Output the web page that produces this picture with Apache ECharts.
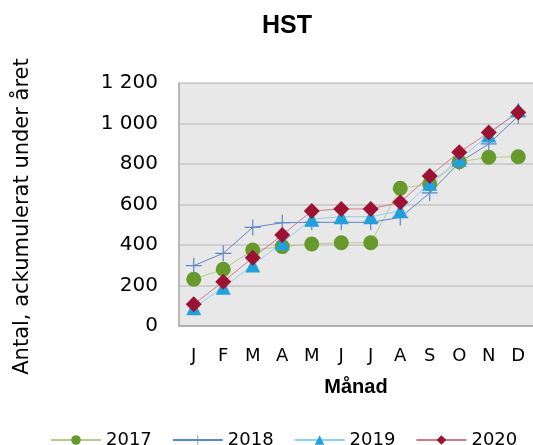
<!DOCTYPE html>
<html>
<head>
<meta charset="utf-8">
<script src="https://cdn.jsdelivr.net/npm/echarts@6/dist/echarts.min.js"></script>
<style>
  html, body { margin: 0; padding: 0; background: #fff; }
  #chart { width: 533px; height: 445px; }
</style>
</head>
<body>
<div id="chart"></div>
<script>
const months = ['J', 'F', 'M', 'A', 'M', 'J', 'J', 'A', 'S', 'O', 'N', 'D']
const yTicks = [0, 200, 400, 600, 800, 1000, 1200]
const years = ['2017', '2018', '2019', '2020']

const data2017 = [231, 280, 375, 392, 405, 411, 411, 680, 701, 811, 833, 836]
const data2018 = [298, 359, 487, 510, 512, 512, 512, 536, 657, 807, 899, 1037]
const data2019 = [90, 191, 301, 411, 527, 540, 540, 569, 705, 823, 943, 1067]
const data2020 = [107, 219, 337, 449, 568, 578, 578, 611, 741, 858, 955, 1054]

const plusPath = 'path://M0,7.4H16V8.6H0Z M7.4,0H8.6V16H7.4Z'

const font = 'DejaVu Sans, Verdana, sans-serif'

function mkSeries(name, values, symbol, size, markColor, lineColor) {
    return {
        name,
        type: 'line',
        data: values,
        symbol,
        symbolSize: size,
        showAllSymbol: true,
        itemStyle: { color: markColor },
        lineStyle: { color: lineColor, width: 1 },
        emphasis: { disabled: true },
        animation: false
    }
}

const chart = echarts.init(document.getElementById('chart'), null, { renderer: 'canvas' })

const option = {
    animation: false,
    title: {
        text: 'HST',
        left: 282,
        top: 9,
        textAlign: 'center',
        textStyle: { fontFamily: 'Liberation Sans, Arial, sans-serif', fontSize: 25, fontWeight: 'bold', color: '#000' }
    },
    legend: {
        data: years,
        left: 45,
        top: 426,
        width: 488,
        itemWidth: 50,
        itemHeight: 12,
        itemGap: 20,
        textStyle: { fontFamily: font, fontSize: 18, color: '#000' }
    },
    grid: { left: 179, top: 83, right: -5, bottom: 119 },
    xAxis: {
        type: 'category',
        data: months,
        boundaryGap: true,
        name: 'Månad',
        nameLocation: 'middle',
        nameGap: 51,
        nameTextStyle: { fontFamily: 'Liberation Sans, Arial, sans-serif', fontSize: 20, fontWeight: 'bold', color: '#000' },
        axisLine: { lineStyle: { color: '#a6a6a6', width: 1.5 } },
        axisTick: { show: false },
        axisLabel: { fontFamily: font, fontSize: 18, color: '#000', margin: 21, interval: 0 }
    },
    yAxis: {
        type: 'value',
        min: yTicks[0],
        max: yTicks[yTicks.length - 1],
        interval: yTicks[1] - yTicks[0],
        name: 'Antal, ackumulerat under året',
        nameLocation: 'middle',
        nameGap: 146,
        nameTextStyle: { fontFamily: font, fontSize: 21, color: '#000', padding: [0, 24, 0, 0] },
        axisLine: { show: true, lineStyle: { color: '#a6a6a6', width: 1.5 } },
        axisTick: { show: false },
        splitLine: { lineStyle: { color: '#c6c6c6', width: 1.5 } },
        splitArea: { show: true, areaStyle: { color: ['#e8e8e8', '#e8e8e8'] } },
        axisLabel: {
            fontFamily: font, fontSize: 20, color: '#000', margin: 21, padding: [4, 0, 0, 0],
            formatter: v => String(v).replace(/\B(?=(\d{3})+(?!\d))/g, ' ')
        }
    },
    series: [
        mkSeries('2017', data2017, 'circle', 15, '#679a2a', '#b4cf95'),
        mkSeries('2018', data2018, plusPath, 16, '#5b86c9', '#5f86c6'),
        mkSeries('2019', data2019, 'triangle', 15, '#21a0db', '#8fd0ee'),
        mkSeries('2020', data2020, 'diamond', 16, '#9b1232', '#cf7a8e')
    ]
}

chart.setOption(option)
</script>
</body>
</html>
